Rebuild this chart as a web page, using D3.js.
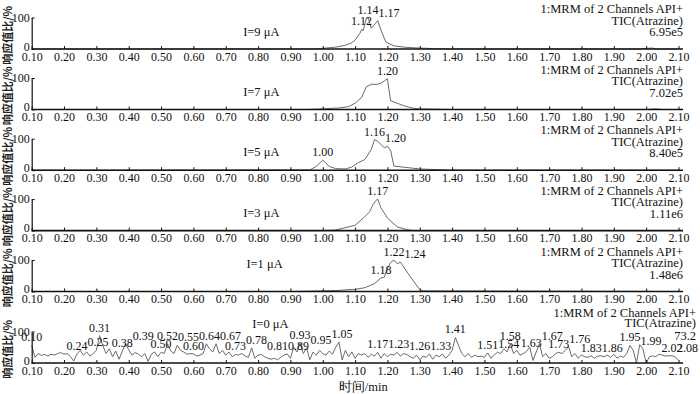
<!DOCTYPE html>
<html>
<head>
<meta charset="utf-8">
<script src="https://cdn.jsdelivr.net/npm/d3@7/dist/d3.min.js"></script>
<style>
  body { margin: 0; background: #fff; }
  text { font-family: "Liberation Serif", "DejaVu Serif", serif; }
</style>
</head>
<body>
<script>
// x axis tick labels (min)
var tickValues = [0.10,0.20,0.30,0.40,0.50,0.60,0.70,0.80,0.90,1.00,1.10,1.20,1.30,1.40,1.50,1.60,1.70,1.80,1.90,2.00,2.10];

// panel captions and intensity scale texts
var currents = ["I=9 μA","I=7 μA","I=5 μA","I=3 μA","I=1 μA","I=0 μA"];
var intensities = ["6.95e5","7.02e5","8.40e5","1.11e6","1.48e6","73.2"];

// I=9 uA
var t9 = [0.10,0.97,1.00,1.04,1.07,1.09,1.10,1.115,1.12,1.125,1.135,1.14,1.15,1.17,1.18,1.195,1.22,1.26,1.30,1.35,1.40,1.98,2.00,2.02,2.03,2.10];
var v9 = [0,0,2,6,12,20,28,50,62,58,98,100,66,90,60,22,10,5,3,1,0,0,2,3,0,0];
var p9 = [1.12,1.14,1.17];

// I=7 uA
var t7 = [0.10,0.95,1.00,1.05,1.08,1.10,1.12,1.135,1.15,1.17,1.18,1.19,1.20,1.205,1.21,1.25,1.28,1.30,1.40,2.00,2.03,2.05,2.10];
var v7 = [0,0,2,5,9,20,38,72,80,80,84,90,98,60,28,12,4,2,0,0,2,0,0];
var p7 = [1.20];

// I=5 uA
var t5 = [0.10,0.26,0.96,0.98,1.00,1.02,1.04,1.07,1.09,1.11,1.13,1.15,1.16,1.17,1.19,1.20,1.21,1.22,1.30,1.40,2.10];
var v5 = [0,0,1,12,32,12,5,4,10,24,34,66,97,92,71,76,62,13,4,0,0];
var p5 = [1.00,1.16,1.20];

// I=3 uA
var t3 = [0.10,1.00,1.04,1.10,1.13,1.145,1.155,1.165,1.17,1.18,1.20,1.23,1.26,1.28,2.10];
var v3 = [0,0,2,17,44,60,82,96,100,72,40,12,3,0,0];
var p3 = [1.17];

// I=1 uA
var t1 = [0.10,0.91,1.04,1.10,1.13,1.16,1.18,1.19,1.20,1.21,1.22,1.23,1.24,1.27,1.30,1.31,2.10];
var v1 = [0,0,3,7,12,25,43,45,74,92,100,88,93,48,6,2,0];
var p1 = [1.18,1.22,1.24];

// I=0 uA, noise trace sampled every 0.01 min from 0.10 to 2.10
var v0 = [56,18,30,24,27,22,28,25,30,33,
          28,30,20,6,29,40,25,35,22,30,
          40,87,55,30,45,20,38,12,37,61,
          42,25,33,28,20,30,5,28,35,20,
          34,30,61,38,30,56,40,35,28,30,
          29,22,25,30,61,45,35,61,30,40,
          25,35,20,27,25,30,22,18,48,15,
          25,27,20,15,12,15,10,18,25,29,
          15,50,35,63,30,48,10,35,25,40,
          30,25,38,28,50,67,10,40,20,35,
          15,30,25,30,18,28,22,34,15,30,
          20,28,25,34,22,30,27,20,15,25,
          10,22,18,29,12,25,20,28,15,25,
          40,81,55,30,20,30,18,25,20,22,
          18,32,15,25,34,30,45,35,61,30,
          40,25,30,37,50,8,35,61,20,30,
          15,20,30,34,30,40,52,20,30,15,
          25,20,18,23,15,22,23,20,25,18,
          28,15,22,18,30,56,40,0,58,45,
          0,20,23,20,28,25,22,23,23,20,
          8];
var t0 = v0.map(function(d, i){ return 0.10 + i * 0.01; });
var p0 = [0.10,0.24,0.25,0.31,0.38,0.39,0.50,0.52,0.55,0.60,0.64,0.67,0.73,0.78,0.81,0.89,0.93,0.95,1.05,
          1.17,1.23,1.26,1.33,1.41,1.51,1.54,1.58,1.63,1.67,1.73,1.76,1.83,1.86,1.95,1.99,2.02,2.08];

var panels = [
  {t: t9, v: v9, peaks: p9, zero: 49,    capX: 0.81,  capUp: 13},
  {t: t7, v: v7, peaks: p7, zero: 109.5, capX: 0.81,  capUp: 14},
  {t: t5, v: v5, peaks: p5, zero: 170.2, capX: 0.81,  capUp: 14},
  {t: t3, v: v3, peaks: p3, zero: 230.6, capX: 0.81,  capUp: 14},
  {t: t1, v: v1, peaks: p1, zero: 291.5, capX: 0.82,  capUp: 24},
  {t: t0, v: v0, peaks: p0, zero: 363,   capX: 0.838, capUp: 35}
];

var W = 700, H = 394, plotH = 31.5, fs = 12, fsHdr = 12.5;
var svg = d3.select("body").append("svg")
  .attr("width", W)
  .attr("height", H);

var x = d3.scaleLinear().domain([0.10, 2.10]).range([31.7, 678.5]);

function valueAt(ts, vs, t){
  for (var i = 0; i < ts.length - 1; i++) {
    if (t >= ts[i] - 1e-9 && t <= ts[i+1] + 1e-9) {
      var f = (t - ts[i]) / (ts[i+1] - ts[i]);
      return vs[i] + f * (vs[i+1] - vs[i]);
    }
  }
  return 0;
}

panels.forEach(function(p, k){
  var y = d3.scaleLinear().domain([0, 100]).range([p.zero, p.zero - plotH]);
  var g = svg.append("g");

  // trace
  var line = d3.line()
    .x(function(d, i){ return x(p.t[i]); })
    .y(function(d){ return y(d); });
  g.append("path")
    .datum(p.v)
    .attr("d", line)
    .attr("fill", "none")
    .attr("stroke", "#6a6a6a")
    .attr("stroke-width", 1);

  // x axis
  var xa = g.append("g")
    .attr("transform", "translate(0," + p.zero + ")")
    .call(d3.axisBottom(x).tickValues(tickValues).tickFormat(d3.format(".2f"))
      .tickSizeInner(-3).tickSizeOuter(0).tickPadding(3));
  xa.select(".domain").attr("stroke", "#111").attr("stroke-width", 1.6).attr("d", "M31.7,0H683");
  xa.selectAll(".tick line").attr("stroke", "#111");
  xa.selectAll("text").attr("font-size", fs).attr("fill", "#111");

  // y axis
  var ya = g.append("g")
    .attr("transform", "translate(31.7,0)")
    .call(d3.axisLeft(y).tickValues([0, 100]).tickSizeInner(-3).tickSizeOuter(0).tickPadding(2));
  ya.select(".domain").attr("stroke", "#111").attr("stroke-width", 1.2);
  ya.selectAll(".tick line").attr("stroke", "#111");
  ya.selectAll("text").attr("font-size", fs).attr("fill", "#111");
  ya.selectAll(".tick").filter(function(d){ return d === 0; })
    .select("text").attr("dy", "0.1em");

  // y title
  g.append("text")
    .attr("transform", "translate(12," + (p.zero - plotH / 2 + 2) + ") rotate(-90)")
    .attr("text-anchor", "middle")
    .style("font-family", "'Noto Sans CJK SC'")
    .attr("font-size", 11)
    .attr("font-weight", 600)
    .attr("fill", "#222")
    .text("响应值比/%");

  // current caption
  g.append("text")
    .attr("x", x(p.capX))
    .attr("y", p.zero - p.capUp)
    .attr("text-anchor", "middle")
    .attr("font-size", fsHdr)
    .attr("fill", "#111")
    .text(currents[k]);

  // header at right
  var last = k === panels.length - 1;
  var rx = last ? 696 : 683;
  var offs = last ? [46, 36, 23] : [36, 24.5, 13];
  var hdr = ["1:MRM of 2 Channels API+", "TIC(Atrazine)", intensities[k]];
  hdr.forEach(function(s, j){
    g.append("text")
      .attr("x", rx)
      .attr("y", p.zero - offs[j])
      .attr("text-anchor", "end")
      .attr("font-size", fsHdr)
      .attr("fill", "#111")
      .text(s);
  });

  // peak labels, pushed right when they collide
  var placed = [];
  p.peaks.forEach(function(pt){
    var py = y(valueAt(p.t, p.v, pt)) - 4;
    var txt = g.append("text")
      .attr("x", x(pt))
      .attr("y", py)
      .attr("text-anchor", "middle")
      .attr("font-size", fs)
      .attr("fill", "#111")
      .text(d3.format(".2f")(pt));
    var w = txt.node().getComputedTextLength();
    var box = {x0: x(pt) - w / 2, x1: x(pt) + w / 2, y0: py - 8, y1: py};
    placed.forEach(function(b){
      if (box.x0 < b.x1 && box.x1 > b.x0 && box.y0 < b.y1 && box.y1 > b.y0) {
        var dx = b.x1 - box.x0;
        box.x0 += dx; box.x1 += dx;
      }
    });
    if (box.x1 > W - 2) {
      var back = box.x1 - (W - 2);
      box.x0 -= back; box.x1 -= back;
    }
    txt.attr("x", (box.x0 + box.x1) / 2);
    placed.push(box);
  });
});

// x title
svg.append("text")
  .attr("x", x(1.125))
  .attr("y", 391)
  .attr("text-anchor", "middle")
  .attr("font-size", fsHdr)
  .attr("fill", "#111")
  .text("时间/min");
</script>
</body>
</html>
